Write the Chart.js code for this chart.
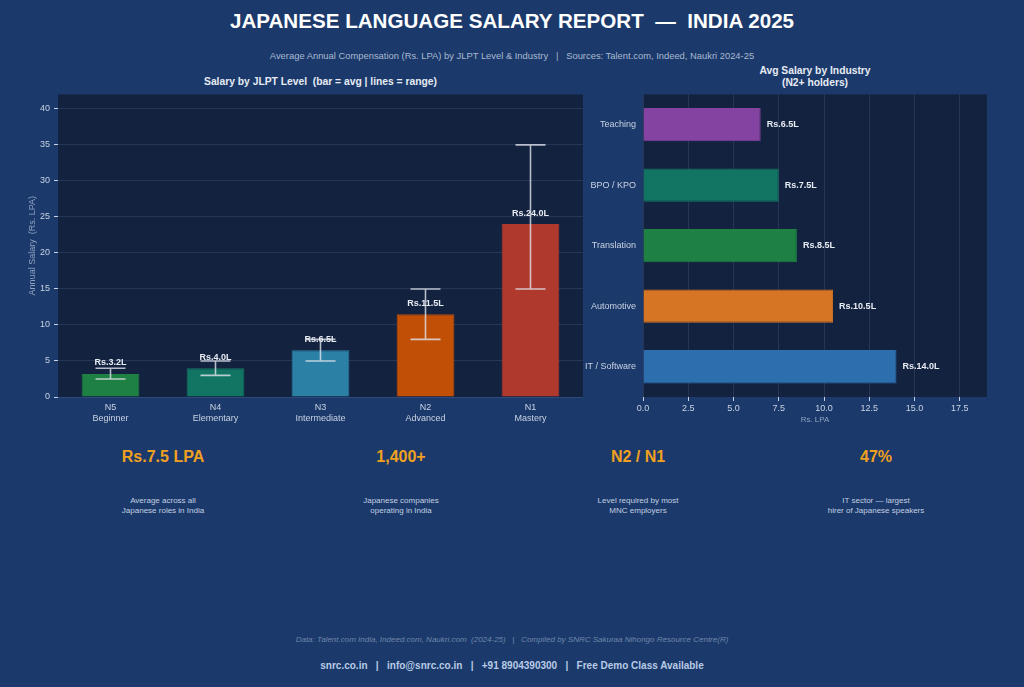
<!DOCTYPE html>
<html>
<head>
<meta charset="utf-8">
<script src="https://cdn.jsdelivr.net/npm/chart.js@4.4.1/dist/chart.umd.min.js"></script>
<style>
  body { margin: 0; width: 1024px; height: 687px; background: #1b3a6b; font-family: "Liberation Sans", Arial, sans-serif; overflow: hidden; position: relative; }
  .abs { position: absolute; text-align: center; white-space: nowrap; }
  #title { left: 0; width: 1024px; top: 9px; font-size: 20.6px; font-weight: bold; color: #ffffff; }
  #sub { left: 0; width: 1024px; top: 50px; font-size: 9.4px; color: #a9b9d2; }
  #lt { left: 58px; width: 525px; top: 76px; font-size: 10.3px; font-weight: bold; color: #e6ebf3; }
  #rt { left: 643px; width: 344px; top: 65px; font-size: 10.3px; font-weight: bold; color: #e6ebf3; line-height: 12px; }
  .big { top: 448px; width: 240px; font-size: 16px; font-weight: bold; color: #f0a020; }
  .desc { top: 496px; width: 240px; font-size: 8px; color: #c3cfe2; line-height: 10px; }
  #src { left: 0; width: 1024px; top: 635px; font-size: 8px; font-style: italic; color: #7086aa; }
  #foot { left: 0; width: 1024px; top: 660px; font-size: 10px; font-weight: bold; color: #b9cbe6; }
</style>
</head>
<body>
<div class="abs" id="title">JAPANESE LANGUAGE SALARY REPORT &nbsp;—&nbsp; INDIA 2025</div>
<div class="abs" id="sub">Average Annual Compensation (Rs. LPA) by JLPT Level &amp; Industry &nbsp; | &nbsp; Sources: Talent.com, Indeed, Naukri 2024-25</div>
<div class="abs" id="lt">Salary by JLPT Level &nbsp;(bar = avg | lines = range)</div>
<div class="abs" id="rt">Avg Salary by Industry<br>(N2+ holders)</div>

<div style="position:absolute;left:27px;top:85px;width:568px;height:345px;"><canvas id="left"></canvas></div>
<div style="position:absolute;left:575px;top:86px;width:425px;height:339px;"><canvas id="right"></canvas></div>

<div class="abs big" style="left:43px;">Rs.7.5 LPA</div>
<div class="abs big" style="left:281px;">1,400+</div>
<div class="abs big" style="left:518px;">N2 / N1</div>
<div class="abs big" style="left:756px;">47%</div>
<div class="abs desc" style="left:43px;">Average across all<br>Japanese roles in India</div>
<div class="abs desc" style="left:281px;">Japanese companies<br>operating in India</div>
<div class="abs desc" style="left:518px;">Level required by most<br>MNC employers</div>
<div class="abs desc" style="left:756px;">IT sector — largest<br>hirer of Japanese speakers</div>

<div class="abs" id="src">Data: Talent.com India, Indeed.com, Naukri.com &nbsp;(2024-25) &nbsp; | &nbsp; Compiled by SNRC Sakuraa Nihongo Resource Centre(R)</div>
<div class="abs" id="foot">snrc.co.in &nbsp; | &nbsp; info@snrc.co.in &nbsp; | &nbsp; +91 8904390300 &nbsp; | &nbsp; Free Demo Class Available</div>

<script>
const levels = [['N5', 'Beginner'], ['N4', 'Elementary'], ['N3', 'Intermediate'], ['N2', 'Advanced'], ['N1', 'Mastery']]
const avgSalary = [3.2, 4.0, 6.5, 11.5, 24.0]
const minSalary = [2.5, 3.0, 5.0, 8.0, 15.0]
const maxSalary = [4.0, 5.0, 8.0, 15.0, 35.0]
const levelColors = ['#1f8043', '#127563', '#2b80a6', '#c24f06', '#b0392d']

const industries = ['Teaching', 'BPO / KPO', 'Translation', 'Automotive', 'IT / Software']
const industrySalary = [6.5, 7.5, 8.5, 10.5, 14.0]
const industryColors = ['#8442a1', '#127563', '#1f8043', '#d67524', '#2d6fae']

const FONT = 'Liberation Sans'
const TICK = '#c9d2e2'
const GRID = 'rgba(120,150,200,0.18)'

Chart.defaults.font.family = FONT
Chart.defaults.animation = false

const plotBg = {
  id: 'plotBg',
  beforeDraw (chart) {
    const { ctx, chartArea: a } = chart
    ctx.save()
    ctx.fillStyle = '#13223f'
    ctx.fillRect(a.left, a.top, a.right - a.left, a.bottom - a.top)
    ctx.restore()
  }
}

const rangeBars = {
  id: 'rangeBars',
  afterDatasetsDraw (chart) {
    const { ctx, scales } = chart
    ctx.save()
    ctx.font = 'bold 9px ' + FONT
    ctx.textAlign = 'center'
    ctx.textBaseline = 'middle'
    ctx.fillStyle = '#e8ecf3'
    avgSalary.forEach((v, i) => {
      const x = scales.x.getPixelForValue(i)
      ctx.fillText('Rs.' + v.toFixed(1) + 'L', x, scales.y.getPixelForValue(v) - 11)
    })
    ctx.strokeStyle = 'rgba(225,228,236,0.8)'
    ctx.lineWidth = 1.6
    avgSalary.forEach((v, i) => {
      const x = scales.x.getPixelForValue(i)
      const lo = scales.y.getPixelForValue(minSalary[i])
      const hi = scales.y.getPixelForValue(maxSalary[i])
      ctx.beginPath()
      ctx.moveTo(x, lo); ctx.lineTo(x, hi)
      ctx.moveTo(x - 15, lo); ctx.lineTo(x + 15, lo)
      ctx.moveTo(x - 15, hi); ctx.lineTo(x + 15, hi)
      ctx.stroke()
    })
    ctx.restore()
  }
}

const barLabels = {
  id: 'barLabels',
  afterDatasetsDraw (chart) {
    const { ctx, scales } = chart
    ctx.save()
    ctx.font = 'bold 9px ' + FONT
    ctx.textAlign = 'left'
    ctx.textBaseline = 'middle'
    ctx.fillStyle = '#e8ecf3'
    industrySalary.forEach((v, i) => {
      ctx.fillText('Rs.' + v.toFixed(1) + 'L', scales.x.getPixelForValue(v) + 6, scales.y.getPixelForValue(i))
    })
    ctx.restore()
  }
}

// drop the tick that sits on the axis max (matplotlib-style limits)
const dropEdgeTick = s => { s.ticks = s.ticks.filter(t => t.value < s.max - 0.01) }

new Chart(document.getElementById('left'), {
  type: 'bar',
  data: {
    labels: levels,
    datasets: [{
      data: avgSalary,
      backgroundColor: levelColors,
      borderColor: levelColors,
      borderWidth: 1,
      categoryPercentage: 0.55,
      barPercentage: 1
    }]
  },
  options: {
    responsive: true,
    maintainAspectRatio: false,
    layout: { padding: { top: 4, right: 12, left: 0, bottom: 0 } },
    plugins: { legend: { display: false }, tooltip: { enabled: false } },
    scales: {
      x: {
        grid: { display: false, drawTicks: true, tickLength: 4, tickColor: TICK },
        border: { display: false },
        ticks: { color: TICK, font: { size: 9 }, padding: 1 },
        afterFit (s) { s.height = 33 }
      },
      y: {
        min: 0,
        max: 42,
        grid: { color: GRID, tickLength: 4, tickColor: TICK },
        border: { display: false },
        ticks: { stepSize: 5, color: TICK, font: { size: 9 }, padding: 4 },
        title: { display: true, text: 'Annual Salary  (Rs. LPA)', color: '#8ea2c2', font: { size: 9 }, padding: 0 },
        afterBuildTicks: dropEdgeTick,
        afterFit (s) { s.width = 31 }
      }
    }
  },
  plugins: [plotBg, rangeBars]
})

new Chart(document.getElementById('right'), {
  type: 'bar',
  data: {
    labels: industries,
    datasets: [{
      data: industrySalary,
      backgroundColor: industryColors,
      borderColor: industryColors,
      borderWidth: 1,
      categoryPercentage: 0.55,
      barPercentage: 1
    }]
  },
  options: {
    indexAxis: 'y',
    responsive: true,
    maintainAspectRatio: false,
    layout: { padding: { top: 8, right: 13, left: 0, bottom: 0 } },
    plugins: { legend: { display: false }, tooltip: { enabled: false } },
    scales: {
      x: {
        min: 0,
        max: 19,
        grid: { color: GRID, tickLength: 4, tickColor: TICK },
        border: { display: false },
        ticks: {
          stepSize: 2.5,
          color: TICK,
          font: { size: 9 },
          padding: 2,
          callback: v => v.toFixed(1)
        },
        title: { display: true, text: 'Rs. LPA', color: '#8ea2c2', font: { size: 8 }, padding: 0 },
        afterBuildTicks: dropEdgeTick,
        afterFit (s) { s.height = 28 }
      },
      y: {
        grid: { display: false, tickLength: 4, tickColor: TICK },
        border: { display: false },
        ticks: { color: TICK, font: { size: 9 }, padding: 3 },
        afterFit (s) { s.width = 68 }
      }
    }
  },
  plugins: [plotBg, barLabels]
})
</script>
</body>
</html>
